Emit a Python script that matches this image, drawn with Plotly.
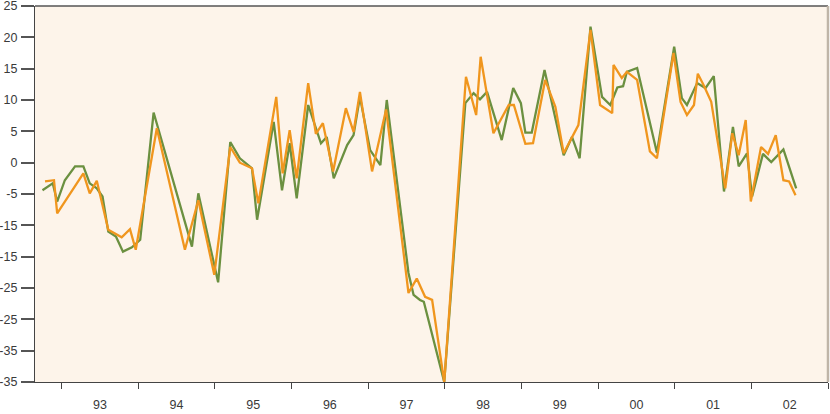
import pandas as pd
import plotly.graph_objects as go

# x positions: months since Jan 1993
green_m = [-3.0, -1.4, -0.7, 0.5, 2.1, 3.4, 4.4, 5.5, 6.4, 7.3, 8.5, 9.6, 11.0, 12.3, 14.4,
           20.4, 21.4, 24.5, 26.4, 27.9, 29.8, 30.6, 33.2, 34.5, 35.7, 36.8, 38.6, 40.6, 41.5,
           42.6, 44.7, 45.7, 46.7, 48.3, 49.9, 50.9, 54.3, 55.1, 56.1, 56.7, 59.9, 63.2, 64.5,
           65.5, 66.6, 68.9, 70.7, 71.9, 72.6, 73.6, 75.6, 78.6, 79.9, 81.1, 82.8, 84.6, 85.9,
           87.0, 87.9, 88.5, 90.1, 93.2, 95.9, 97.1, 97.9, 99.5, 100.8, 102.1, 103.7, 105.1,
           106.0, 107.3, 108.1, 109.8, 111.1, 113.0, 115.0]
green_v = [-4.4, -3.3, -6.2, -2.8, -0.6, -0.6, -3.3, -4.1, -5.4, -11.0, -11.8, -14.2, -13.5, -12.3, 8.0,
           -13.4, -4.9, -19.1, 3.3, 0.7, -0.9, -9.1, 6.5, -4.4, 3.1, -5.7, 9.2, 3.1, 4.1,
           -2.5, 2.8, 4.4, 10.5, 2.0, -0.4, 10.0, -17.6, -21.1, -21.9, -22.2, -35.0, 9.5, 11.1,
           10.1, 11.3, 3.6, 11.9, 9.5, 4.8, 4.8, 14.8, 1.2, 4.1, 0.7, 21.7, 10.5, 9.2,
           12.0, 12.2, 14.5, 15.1, 1.6, 18.5, 10.3, 9.2, 12.7, 11.9, 13.8, -4.6, 5.7,
           -0.6, 1.5, -5.4, 1.4, 0.1, 2.1, -4.1]

orange_m = [-2.6, -1.2, -0.7, 0.5, 3.4, 4.4, 5.5, 7.3, 9.4, 10.7, 11.6, 14.9, 19.3, 21.4, 23.9,
            26.4, 27.9, 29.8, 30.8, 33.6, 34.6, 35.7, 36.8, 38.6, 39.8, 40.9, 42.5, 44.5, 45.7,
            46.7, 48.6, 50.8, 54.3, 55.6, 56.9, 58.0, 59.9, 63.3, 64.9, 65.6, 67.6, 70.0, 70.8,
            72.6, 73.8, 75.7, 77.3, 78.6, 80.9, 82.8, 84.3, 86.2, 86.4, 87.7, 88.5, 90.1, 92.1,
            93.2, 95.8, 96.9, 97.9, 99.0, 99.6, 100.5, 101.7, 103.9, 105.0, 106.0, 107.1, 107.9,
            109.5, 110.6, 111.8, 113.0, 113.9, 114.9]
orange_v = [-3.0, -2.8, -8.1, -6.2, -1.7, -4.9, -2.9, -10.7, -11.9, -10.6, -13.9, 5.5, -13.9, -6.0, -17.9,
            2.5, 0.0, -0.9, -6.5, 10.5, -1.7, 5.2, -2.5, 12.7, 4.6, 6.3, -1.4, 8.7, 4.9,
            11.3, -1.4, 8.5, -20.8, -18.5, -21.4, -21.9, -35.0, 13.7, 7.6, 16.9, 4.7, 9.2, 9.2,
            3.0, 3.1, 13.2, 8.9, 1.5, 6.0, 21.2, 9.2, 7.9, 15.6, 13.5, 14.5, 13.2, 1.8,
            0.7, 17.5, 9.7, 7.6, 9.2, 14.2, 12.4, 9.7, -4.1, 4.7, 1.2, 6.8, -6.2,
            2.5, 1.4, 4.4, -2.8, -3.0, -5.2]

y_tickvals = [25, 20, 15, 10, 5, 0, -5, -10, -15, -20, -25, -30, -35]
y_ticktext = ["25", "20", "15", "10", "5", "0", "-5", "-15", "-15", "-25", "-25", "-35", "-35"]

base = pd.Timestamp("1993-01-01")
def to_dates(months):
    return [base + pd.to_timedelta(m * 30.4375, unit="D") for m in months]

GREEN = "#6b9040"
ORANGE = "#f0961e"

fig = go.Figure()
fig.add_trace(go.Scatter(x=to_dates(green_m), y=green_v, mode="lines",
                         line=dict(color=GREEN, width=2.3), showlegend=False))
fig.add_trace(go.Scatter(x=to_dates(orange_m), y=orange_v, mode="lines",
                         line=dict(color=ORANGE, width=2.3), showlegend=False))

fig.update_layout(
    width=830, height=414,
    margin=dict(l=35, r=2, t=6, b=32, autoexpand=False),
    paper_bgcolor="white",
    plot_bgcolor="#fdf4ea",
    font=dict(family="Liberation Sans, Arial, sans-serif", size=12.5, color="#3a3a3a"),
)
fig.update_xaxes(
    type="date", automargin=False,
    range=["1992-08-27", "2003-01-01"],
    dtick="M12", tick0="1993-01-01", tickformat="%y", ticklabelmode="period",
    ticks="outside", ticklen=6, tickwidth=1.2, tickcolor="#444",
    showline=True, linecolor="#444", linewidth=1.3,
    showgrid=False, zeroline=False,
    ticklabelstandoff=5, ticklabeloverflow="allow",
)
fig.update_yaxes(
    automargin=False,
    range=[-35, 25],
    tickmode="array", tickvals=y_tickvals, ticktext=y_ticktext,
    ticks="outside", ticklen=13, tickwidth=1.6, tickcolor="#555",
    showline=True, linecolor="#444", linewidth=1.3,
    showgrid=False, zeroline=False,
    ticklabelstandoff=1, ticklabeloverflow="allow",
)
# top and right border
fig.add_shape(type="line", xref="paper", yref="paper", x0=0, x1=1, y0=1, y1=1,
              line=dict(color="#555", width=1.3))
fig.add_shape(type="line", xref="paper", yref="paper", x0=1, x1=1, y0=0, y1=1,
              line=dict(color="#bfb5a8", width=2.5))

fig.write_html("out.html", config={"displayModeBar": False},
               post_script="document.body.style.margin='0';document.body.style.padding='0';")
